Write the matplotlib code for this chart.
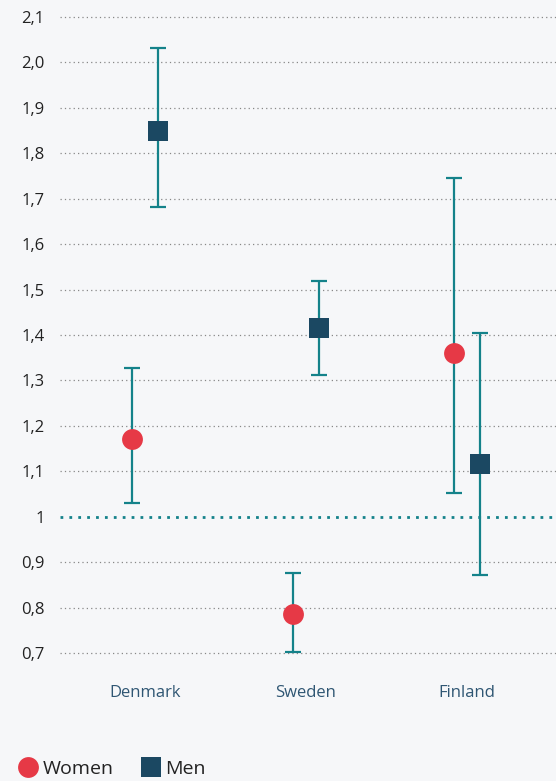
import matplotlib.pyplot as plt
from matplotlib.lines import Line2D

countries = ["Denmark", "Sweden", "Finland"]

women = [1.17, 0.786, 1.36]
women_low = [1.031, 0.702, 1.053]
women_high = [1.327, 0.876, 1.746]

men = [1.85, 1.415, 1.115]
men_low = [1.682, 1.311, 0.872]
men_high = [2.031, 1.519, 1.404]

y_ticks = [0.7, 0.8, 0.9, 1.0, 1.1, 1.2, 1.3, 1.4, 1.5, 1.6, 1.7, 1.8, 1.9, 2.0, 2.1]
y_labels = ["0,7", "0,8", "0,9", "1", "1,1", "1,2", "1,3", "1,4", "1,5", "1,6", "1,7", "1,8", "1,9", "2,0", "2,1"]

bg = "#f6f7f9"
red = "#e63946"
navy = "#1b4862"
teal = "#14828a"

plt.rcParams['font.family'] = ['Open Sans', 'DejaVu Sans']

fig = plt.figure(figsize=(5.56, 7.81), dpi=100, facecolor=bg)
ax = fig.add_axes([60 / 556, 1 - 653 / 781, 496 / 556, 636 / 781], facecolor=bg)

# Gridlines
for t in y_ticks:
    if t == 1.0:
        ax.axhline(t, color=teal, lw=2, ls=(0, (1, 2.2)), clip_on=False, zorder=1)
    else:
        ax.axhline(t, color="#888888", lw=0.9, ls=(0, (1, 2.5)), clip_on=False, zorder=1)

x = list(range(len(countries)))
off = 0.078
xw = [i - off for i in x]
xm = [i + off for i in x]

ax.errorbar(xw, women,
            yerr=[[w - l for w, l in zip(women, women_low)], [h - w for w, h in zip(women, women_high)]],
            fmt='none', ecolor=teal, elinewidth=1.6, capsize=5.5, capthick=1.6, zorder=2)
ax.errorbar(xm, men,
            yerr=[[m - l for m, l in zip(men, men_low)], [h - m for m, h in zip(men, men_high)]],
            fmt='none', ecolor=teal, elinewidth=1.6, capsize=5.5, capthick=1.6, zorder=2)
ax.plot(xw, women, 'o', color=red, markersize=15, markeredgewidth=0, zorder=3)
ax.plot(xm, men, 's', color=navy, markersize=14, markeredgewidth=0, zorder=3)

ax.set_xlim(-0.528, 2.553)
ax.set_ylim(0.7, 2.1)
ax.set_yticks(y_ticks)
ax.set_yticklabels(y_labels, fontsize=12, color="#222222")
ax.set_xticks(x)
ax.set_xticklabels(countries, fontsize=12, color="#2f5673")
ax.tick_params(axis='y', length=0, pad=11)
ax.tick_params(axis='x', length=0, pad=23)
for s in ax.spines.values():
    s.set_visible(False)

handles = [
    Line2D([], [], marker='o', color=red, ls='none', markersize=15, markeredgewidth=0),
    Line2D([], [], marker='s', color=navy, ls='none', markersize=14, markeredgewidth=0),
]
fig.legend(handles, ["Women", "Men"], loc='center left', bbox_to_anchor=(0.005, 1 - 769 / 781),
           ncol=2, frameon=False, fontsize=14, handlelength=0.8, handletextpad=0.35,
           columnspacing=1.5, labelcolor="#222222")

fig.savefig("out.png", dpi=100, facecolor=bg)
